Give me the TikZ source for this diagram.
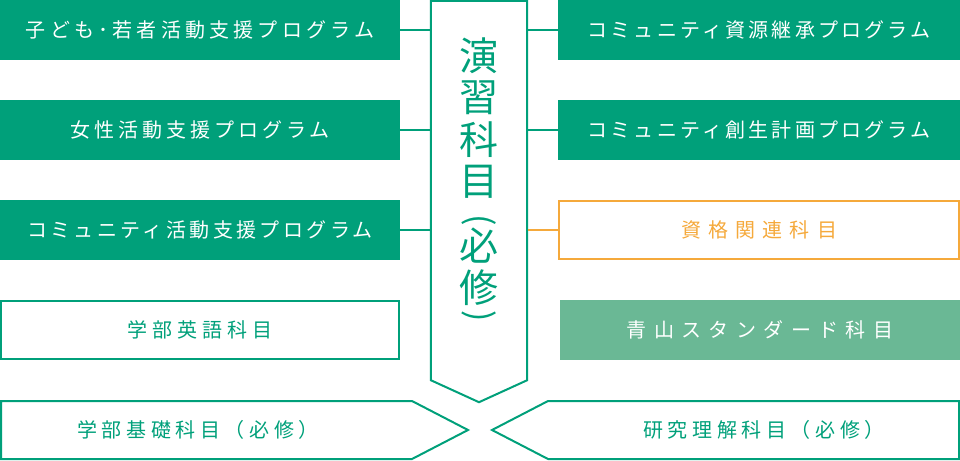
\documentclass[tikz,border=0pt]{standalone}
\usepackage{fontspec}
\usepackage{graphicx}
\newfontfamily\jp{Noto Sans CJK JP}
\definecolor{ag}{RGB}{0,160,122}
\definecolor{lg}{RGB}{106,184,149}
\definecolor{og}{RGB}{245,169,59}
\newcommand\ls[1]{\addfontfeatures{LetterSpace=#1}}
\begin{document}
\begin{tikzpicture}[x=1pt,y=-1pt,
  box/.style={minimum width=400pt, minimum height=60pt, inner sep=0pt, font=\jp\fontsize{20}{24}\selectfont},
  gbox/.style={box, fill=ag, text=white},
  obox/.style={box, draw=ag, line width=2pt, minimum width=398pt, minimum height=58pt, text=ag},
  orbox/.style={box, draw=og, line width=2pt, minimum width=400pt, minimum height=58pt, text=og},
  lbox/.style={box, fill=lg, text=white},
  link/.style={draw=ag, line width=2pt},
  olink/.style={draw=og, line width=2pt},
  frame/.style={draw=ag, line width=2pt, line join=miter},
  vt/.style={inner sep=0pt, text=ag, font=\jp\fontsize{39}{39}\selectfont},
  vp/.style={inner sep=0pt, text=ag, font=\jp\fontsize{34}{34}\selectfont},
  bt/.style={inner sep=0pt, text=ag, font=\jp\fontsize{20}{24}\selectfont}]
\useasboundingbox (0,0) rectangle (960,460);
% left column
\node[gbox] (l1) at (200,30) {\ls{21}子ども･若者活動支援プログラム};
\node[gbox] (l2) at (200,130) {\ls{20}女性活動支援プログラム};
\node[gbox] (l3) at (200,230) {\ls{17}コミュニティ活動支援プログラム};
\node[obox] (l4) at (200,330) {\ls{25}学部英語科目};
% right column
\node[gbox, minimum width=402pt] (r1) at (759,30) {\ls{16}コミュニティ資源継承プログラム};
\node[gbox, minimum width=402pt] (r2) at (759,130) {\ls{16}コミュニティ創生計画プログラム};
\node[orbox] (r3) at (759,230) {\ls{36}資格関連科目};
\node[lbox] (r4) at (760,330) {\ls{37}青山スタンダード科目};
% centre arrow
\node[minimum width=98pt, minimum height=380pt, inner sep=0pt] (core) at (479,190) {};
\draw[frame] ([shift={(1,1)}]core.north west) -- ([shift={(-1,1)}]core.north east)
  -- ([shift={(-1,0)}]core.south east) -- ([shift={(0,22)}]core.south)
  -- ([shift={(1,0)}]core.south west) -- cycle;
\foreach \c/\y [count=\i] in {演/56, 習/98, 科/140, 目/182, 必/246, 修/288}
  \node[vt] (v\i) at (479,\y) {\c};
\node[vp] (p1) at (479,220) {\rotatebox{-90}{(}};
\node[vp] (p2) at (479,316) {\rotatebox{-90}{)}};
% connectors
\draw[link] (l1.east) -- (l1.east -| core.west);
\draw[link] (l2.east) -- (l2.east -| core.west);
\draw[link] (l3.east) -- (l3.east -| core.west);
\draw[link] (r1.west) -- (r1.west -| core.east);
\draw[link] (r2.west) -- (r2.west -| core.east);
\draw[olink] (r3.west) -- (r3.west -| core.east);
% bottom pentagons
\coordinate (bl) at (468,430);
\coordinate (br) at (492,430);
\draw[frame] (1,401) -- (412,401) -- (bl) -- (412,459) -- (1,459) -- cycle;
\draw[frame] (959,401) -- (548,401) -- (br) -- (548,459) -- (959,459) -- cycle;
\node[bt] (b1) at (198,430) {\ls{23}学部基礎科目（必修）};
\node[bt] (b2) at (764,430) {\ls{23}研究理解科目（必修）};
\end{tikzpicture}
\end{document}
